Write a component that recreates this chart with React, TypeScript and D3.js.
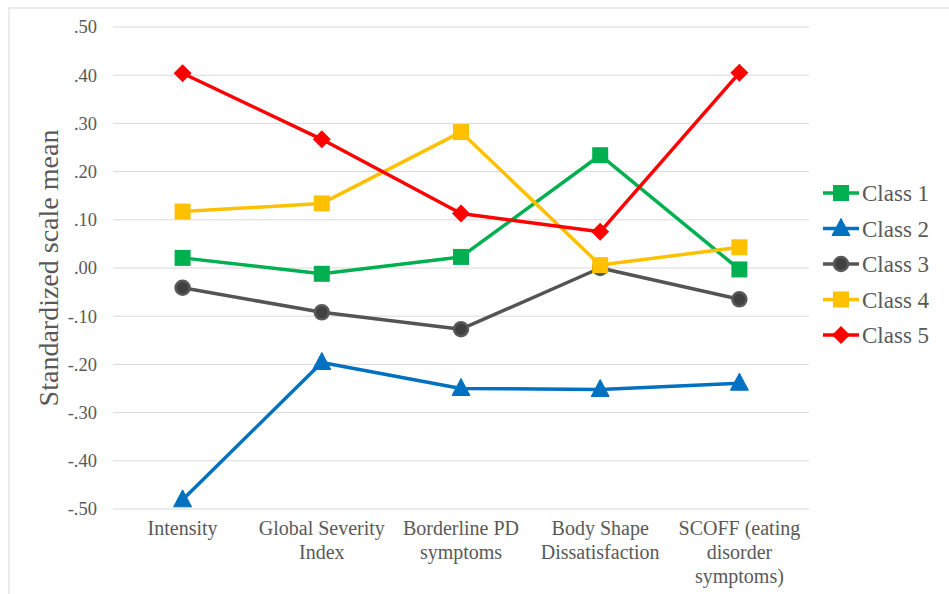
import React from "react";
import * as d3 from "d3";

const categories = [
  ["Intensity"],
  ["Global Severity", "Index"],
  ["Borderline PD", "symptoms"],
  ["Body Shape", "Dissatisfaction"],
  ["SCOFF (eating", "disorder", "symptoms)"],
];
const seriesNames = ["Class 1", "Class 2", "Class 3", "Class 4", "Class 5"];
const class1 = [0.021, -0.012, 0.023, 0.234, -0.003];
const class2 = [-0.481, -0.196, -0.25, -0.252, -0.239];
const class3 = [-0.041, -0.092, -0.127, 0.0, -0.065];
const class4 = [0.117, 0.134, 0.282, 0.006, 0.043];
const class5 = [0.404, 0.267, 0.113, 0.075, 0.405];
const yTicks = [0.5, 0.4, 0.3, 0.2, 0.1, 0, -0.1, -0.2, -0.3, -0.4, -0.5];
const colors = ["#00B050", "#0070C0", "#545454", "#FFC000", "#FF0000"];
const markers = ["square", "triangle", "circle", "square", "diamond"];

const W = 949, H = 594;
const plotL = 113, plotR = 809, plotT = 27, plotB = 509;

const fmt = (v: number) => {
  if (Math.abs(v) < 1e-9) return ".00";
  const s = Math.abs(v).toFixed(2).replace(/^0/, "");
  return (v < 0 ? "-" : "") + s;
};

function Marker({ type, x, y, color }: { type: string; x: number; y: number; color: string }) {
  if (type === "square") return <rect x={x - 8} y={y - 8} width={16} height={16} fill={color} />;
  if (type === "diamond")
    return <path d={`M${x},${y - 9}L${x + 9},${y}L${x},${y + 9}L${x - 9},${y}Z`} fill={color} />;
  if (type === "triangle")
    return <path d={`M${x},${y - 10}L${x + 9},${y + 7}L${x - 9},${y + 7}Z`} fill={color} stroke={color} strokeWidth={1} strokeLinejoin="round" />;
  return <circle cx={x} cy={y} r={7} fill="#404040" stroke="#595959" strokeWidth={2.5} />;
}

export default function App() {
  const allSeries = [class1, class2, class3, class4, class5];
  const x = d3.scaleBand<number>().domain(d3.range(categories.length)).range([plotL, plotR]);
  const cx = (i: number) => (x(i) as number) + x.bandwidth() / 2;
  const y = d3.scaleLinear().domain([-0.5, 0.5]).range([plotB, plotT]);
  const line = d3.line<number>().x((_, i) => cx(i)).y((d) => y(d));
  const serif = "'Liberation Serif', 'Times New Roman', serif";

  return (
    <svg width={W} height={H} style={{ position: "absolute", left: 0, top: 0, background: "#fff", fontFamily: serif }}>
      <rect x={9} y={8} width={W} height={H} fill="none" stroke="#d9d9d9" strokeWidth={1} />
      {yTicks.map((t) => (
        <g key={t}>
          <line x1={plotL} x2={plotR} y1={y(t)} y2={y(t)} stroke="#d9d9d9" strokeWidth={1} />
          <text x={97} y={y(t)} dy="0.35em" textAnchor="end" fontSize={18.5} fill="#595959">
            {fmt(t)}
          </text>
        </g>
      ))}
      <text
        transform={`translate(58,${(plotT + plotB) / 2}) rotate(-90)`}
        textAnchor="middle"
        fontSize={28}
        fill="#595959"
      >
        Standardized scale mean
      </text>
      {categories.map((lines, i) => (
        <text key={i} x={cx(i)} y={535} textAnchor="middle" fontSize={20} fill="#595959">
          {lines.map((l, j) => (
            <tspan key={j} x={cx(i)} dy={j === 0 ? 0 : 24}>
              {l}
            </tspan>
          ))}
        </text>
      ))}
      {allSeries.map((s, k) => (
        <g key={k}>
          <path d={line(s) || ""} fill="none" stroke={colors[k]} strokeWidth={3.5} strokeLinejoin="round" />
          {s.map((v, i) => (
            <Marker key={i} type={markers[k]} x={cx(i)} y={y(v)} color={colors[k]} />
          ))}
        </g>
      ))}
      {seriesNames.map((n, k) => {
        const ly = 193 + k * 35.5;
        return (
          <g key={n}>
            <line x1={823} x2={859} y1={ly} y2={ly} stroke={colors[k]} strokeWidth={3.5} />
            <Marker type={markers[k]} x={841} y={ly} color={colors[k]} />
            <text x={862} y={ly} dy="0.35em" fontSize={23} fill="#595959">
              {n}
            </text>
          </g>
        );
      })}
    </svg>
  );
}
